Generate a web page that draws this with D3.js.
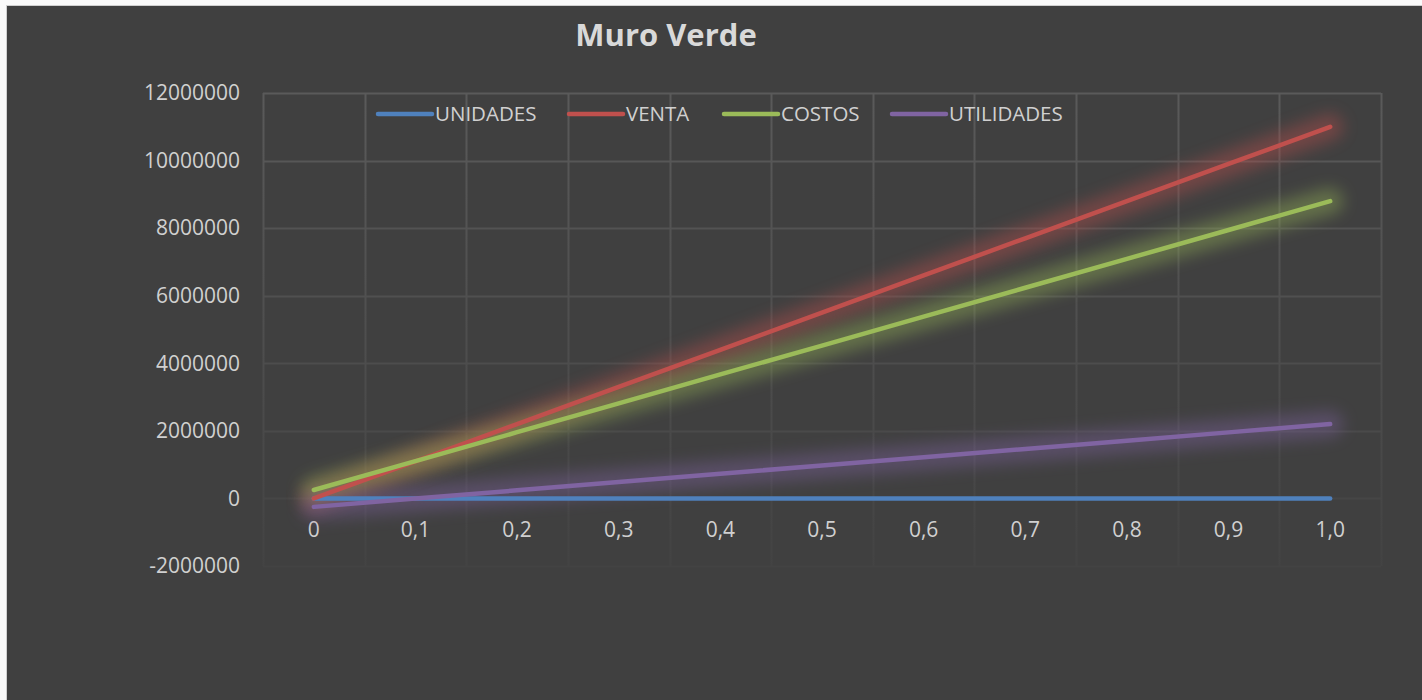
<!DOCTYPE html>
<html>
<head>
<meta charset="utf-8">
<script src="https://cdn.jsdelivr.net/npm/d3@7"></script>
<style>
  body { margin: 0; background: #fafafa; }
  svg { display: block; }
</style>
</head>
<body>
<div id="chart"></div>
<script>
// chart values
var categories = ["0", "0,1", "0,2", "0,3", "0,4", "0,5", "0,6", "0,7", "0,8", "0,9", "1,0"];
var unidades   = [0, 0.1, 0.2, 0.3, 0.4, 0.5, 0.6, 0.7, 0.8, 0.9, 1];
var venta      = [0, 1100000, 2200000, 3300000, 4400000, 5500000, 6600000, 7700000, 8800000, 9900000, 11000000];
var costos     = [250000, 1105000, 1960000, 2815000, 3670000, 4525000, 5380000, 6235000, 7090000, 7945000, 8800000];
var utilidades = [-250000, -5000, 240000, 485000, 730000, 975000, 1220000, 1465000, 1710000, 1955000, 2200000];
var seriesNames = ["UNIDADES", "VENTA", "COSTOS", "UTILIDADES"];
var yTicks = [-2000000, 0, 2000000, 4000000, 6000000, 8000000, 10000000, 12000000];

var colors = ["#4f81bd", "#c0504d", "#9bbb59", "#8064a2"];
var series = [unidades, venta, costos, utilidades];

var W = 1422, H = 700;
var margin = {top: 93, left: 263, right: 41, bottom: 134};
var width = W - margin.left - margin.right,
    height = H - margin.top - margin.bottom;

var svg = d3.select("#chart")
  .append("svg")
    .attr("width", W)
    .attr("height", H);

// glow filter
var defs = svg.append("defs");
var f = defs.append("filter")
  .attr("id", "glow")
  .attr("x", "-20%").attr("y", "-50%")
  .attr("width", "140%").attr("height", "200%");
f.append("feGaussianBlur").attr("stdDeviation", 8);

// gridline fade
var grad = defs.append("linearGradient")
  .attr("id", "gridFade")
  .attr("gradientUnits", "userSpaceOnUse")
  .attr("x1", 0).attr("y1", 0).attr("x2", 0).attr("y2", height);
grad.append("stop").attr("offset", "0%").attr("stop-color", "#5a5a5a");
grad.append("stop").attr("offset", "100%").attr("stop-color", "#434343");

// chart background
svg.append("rect")
  .attr("x", 6.5).attr("y", 5.5)
  .attr("width", W).attr("height", H)
  .style("fill", "#404040")
  .style("stroke", "#d0d0d0")
  .style("stroke-width", 1);

// title
svg.append("text")
  .attr("x", 666)
  .attr("y", 46)
  .attr("text-anchor", "middle")
  .text("Muro Verde")
  .style("font-family", "'Open Sans', sans-serif")
  .style("font-weight", "bold")
  .style("font-size", "31px")
  .style("fill", "#d9d9d9");

var g = svg.append("g")
  .attr("transform", "translate(" + margin.left + "," + margin.top + ")");

// scales
var x = d3.scaleBand()
  .domain(categories)
  .range([0, width]);

var y = d3.scaleLinear()
  .domain([-2000000, 12000000])
  .range([height, 0]);

// horizontal gridlines
g.append("g")
  .selectAll("line")
  .data(yTicks)
  .enter()
  .append("line")
    .attr("x1", 0)
    .attr("x2", width)
    .attr("y1", function(d) { return Math.round(y(d)) + 0.5; })
    .attr("y2", function(d) { return Math.round(y(d)) + 0.5; })
    .style("stroke", function(d) { return d3.interpolateRgb("#434343", "#5a5a5a")(1 - y(d) / height); })
    .style("stroke-width", 2);

// vertical gridlines at category boundaries
var bounds = categories.map(function(c) { return x(c); }).concat([width]);
g.append("g")
  .selectAll("line")
  .data(bounds)
  .enter()
  .append("line")
    .attr("x1", function(d) { return Math.round(d) + 0.5; })
    .attr("x2", function(d) { return Math.round(d) + 0.5; })
    .attr("y1", 0)
    .attr("y2", height)
    .style("stroke", "url(#gridFade)")
    .style("stroke-width", 2);

// Y axis labels
var yAxis = g.append("g")
  .call(d3.axisLeft(y).tickValues(yTicks).tickSize(0).tickPadding(23)
    .tickFormat(function(d) { return String(d); }));
yAxis.select(".domain").remove();
yAxis.selectAll("text")
  .style("font-family", "'Open Sans', sans-serif")
  .style("font-size", "21px")
  .style("fill", "#d0d0d0");

// X axis labels (sit under the zero line)
var xAxis = g.append("g")
  .attr("transform", "translate(0," + y(0) + ")")
  .call(d3.axisBottom(x).tickSize(0).tickPadding(24));
xAxis.select(".domain").remove();
xAxis.selectAll("text")
  .style("font-family", "'Open Sans', sans-serif")
  .style("font-size", "21px")
  .style("fill", "#d0d0d0");

var line = d3.line()
  .x(function(d, i) { return x(categories[i]) + x.bandwidth() / 2; })
  .y(function(d) { return y(d); });

// glows
series.forEach(function(s, k) {
  g.append("path")
    .datum(s)
    .attr("d", line)
    .attr("fill", "none")
    .attr("stroke", colors[k])
    .attr("stroke-width", 26)
    .attr("stroke-linecap", "round")
    .attr("opacity", 0.4)
    .attr("filter", "url(#glow)");
});

// lines
series.forEach(function(s, k) {
  g.append("path")
    .datum(s)
    .attr("d", line)
    .attr("fill", "none")
    .attr("stroke", colors[k])
    .attr("stroke-width", 4.5)
    .attr("stroke-linecap", "round");
});

// legend
var legendX = [378, 569, 724, 892];
var legend = svg.append("g");
seriesNames.forEach(function(name, k) {
  legend.append("line")
    .attr("x1", legendX[k])
    .attr("x2", legendX[k] + 54)
    .attr("y1", 114)
    .attr("y2", 114)
    .style("stroke", colors[k])
    .style("stroke-width", 4.5)
    .style("stroke-linecap", "round");
  legend.append("text")
    .attr("x", legendX[k] + 57)
    .attr("y", 121)
    .text(name)
    .style("font-family", "'Open Sans', sans-serif")
    .style("font-size", "20.5px")
    .style("fill", "#d0d0d0");
});
</script>
</body>
</html>
